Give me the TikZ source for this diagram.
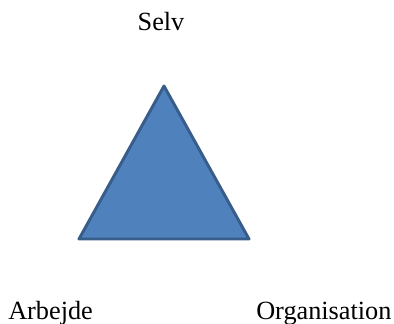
\documentclass[tikz,border=0pt]{standalone}
\usepackage{fontspec}
\setmainfont{Liberation Serif}
\usetikzlibrary{positioning}
\definecolor{tri_blue}{RGB}{79, 129, 189}
\definecolor{tri_edge}{RGB}{56, 93, 138}
\tikzset {
  corner/.style = {inner sep=0pt, font=\fontsize{19.7}{24}\selectfont},
  triangle/.style = {draw=tri_edge, fill=tri_blue, line width=2.2pt, line join=round}
}

\begin{document}
\begin{tikzpicture}[x=0.75pt, y=-0.75pt]
    \useasboundingbox (0,0) rectangle (394,324);

    % corners of the triangle
    \coordinate (top) at (164,86);
    \coordinate (left) at (79,239);
    \coordinate (right) at (249,239);
    \draw[triangle] (top) -- (left) -- (right) -- cycle;

    \node[corner, anchor=base] (selv) at (161,31) {Selv};
    \node[corner, anchor=base west] (arbejde) at (8,320) {Arbejde};
    \node[corner, anchor=base west] (organisation) at (256,320) {Organisation};

\end{tikzpicture}
\end{document}
